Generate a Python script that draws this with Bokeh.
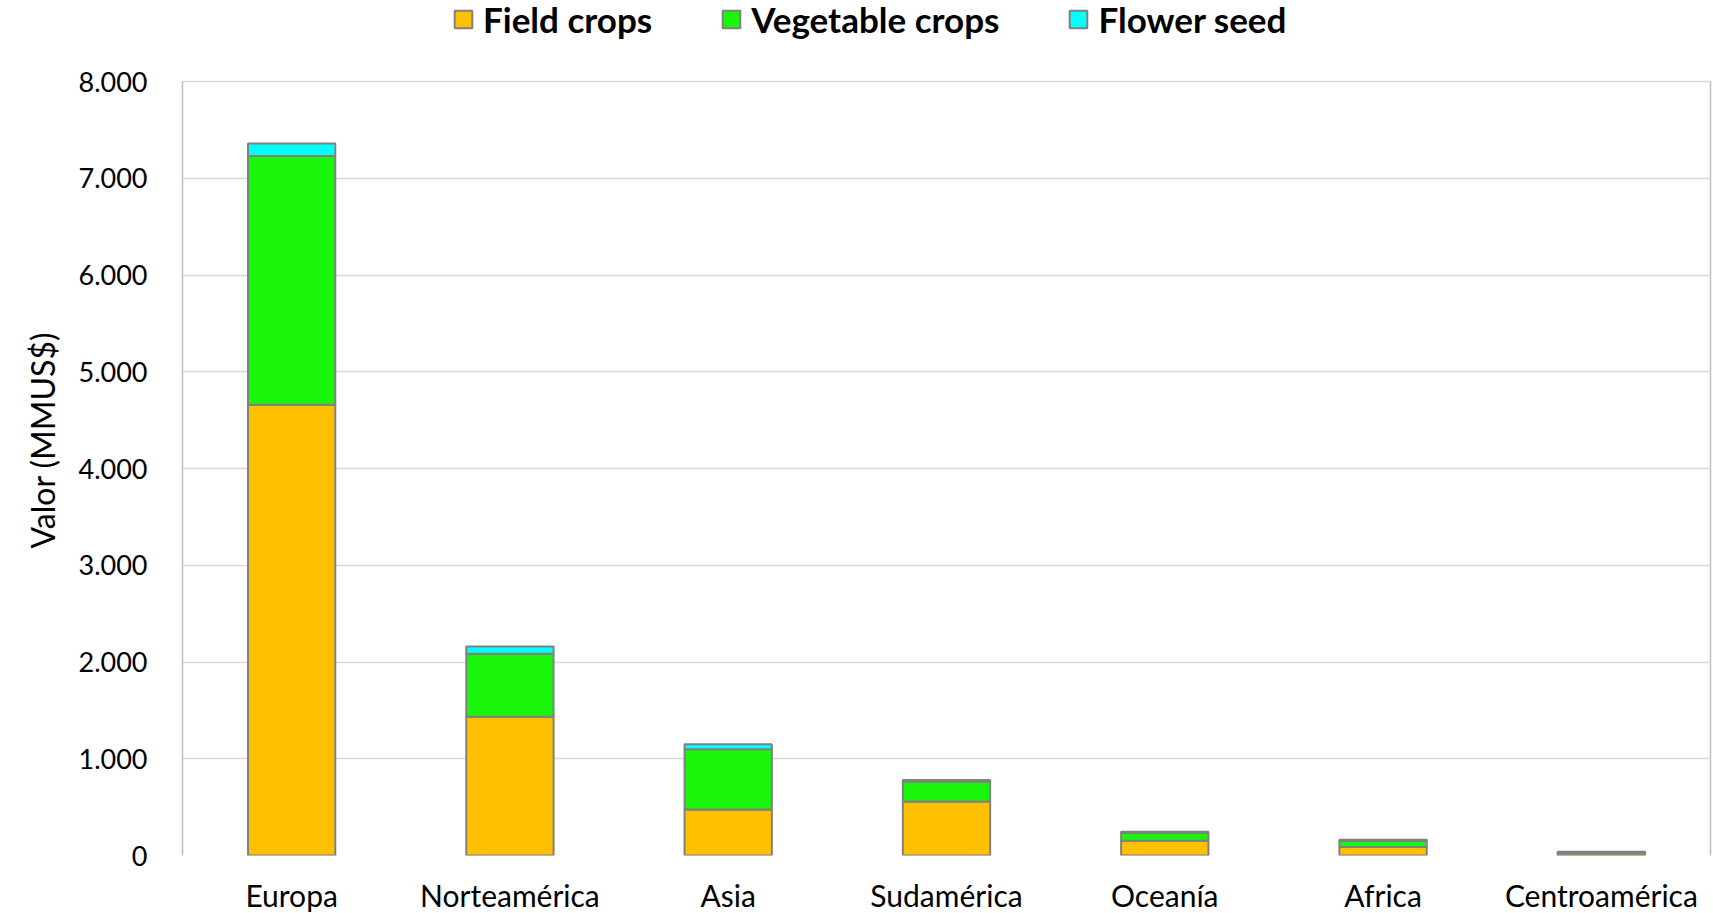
from bokeh.plotting import figure
from bokeh.models import (FactorRange, Range1d, FixedTicker, Legend, LegendItem,
                          Title, LinearAxis)
from bokeh.embed import file_html
from bokeh.resources import INLINE

categories = ["Europa", "Norteamérica", "Asia", "Sudamérica", "Oceanía", "Africa", "Centroamérica"]
field_crops = [4660, 1435, 476, 558, 152, 88, 22]
vegetable_crops = [2570, 651, 623, 208, 84, 62, 14]
flower_seed = [130, 75, 52, 15, 10, 12, 4]
series_names = ["Field crops", "Vegetable crops", "Flower seed"]
series_keys = ["field", "veg", "flower"]
colors = ["#FFC000", "#19F50B", "#00FFFF"]
y_ticks = [0, 1000, 2000, 3000, 4000, 5000, 6000, 7000, 8000]
y_tick_labels = ["0", "1.000", "2.000", "3.000", "4.000", "5.000", "6.000", "7.000", "8.000"]
y_label = "Valor (MMUS$)"

FONT = "Lato"
BORDER = "#BFBFBF"
FRAME_W = 1528
PLOT_H = 774          # height of the boxed plot area
TOP = 81              # space above box for legend
FRAME_H = PLOT_H + TOP
LEFT = 182
Y_MAX = y_ticks[-1]
Y_TOP = Y_MAX * FRAME_H / PLOT_H

data = {"cat": categories, "field": field_crops, "veg": vegetable_crops, "flower": flower_seed}

p = figure(
    x_range=FactorRange(*categories, range_padding=0),
    y_range=Range1d(0, Y_TOP),
    frame_width=FRAME_W, frame_height=FRAME_H,
    min_border_left=LEFT, min_border_right=3, min_border_top=0, min_border_bottom=58,
    output_backend="svg", toolbar_location=None,
)
p.outline_line_color = None

renderers = p.vbar_stack(series_keys, x="cat", width=0.4, source=data,
                         fill_color=colors, line_color="#808080", line_width=2)

legend = Legend(
    items=[LegendItem(label=n, renderers=[r]) for n, r in zip(series_names, renderers)],
    orientation="horizontal", location=(270, FRAME_H - 40),
    label_text_font=FONT, label_text_font_size="35px", label_text_font_style="bold",
    label_text_color="#000000", label_height=23,
    glyph_width=22, glyph_height=22, label_standoff=9, spacing=68,
    padding=0, margin=0, border_line_alpha=0, background_fill_alpha=0,
)
p.add_layout(legend, "center")

p.xgrid.grid_line_color = None
p.ygrid.ticker = FixedTicker(ticks=y_ticks)
p.ygrid.grid_line_color = "#D9D9D9"
p.ygrid.grid_line_width = 1.5

p.yaxis.ticker = FixedTicker(ticks=y_ticks)
p.yaxis.bounds = (0, Y_MAX)
p.yaxis.major_label_overrides = {t: l for t, l in zip(y_ticks, y_tick_labels)}
for ax in (p.xaxis[0], p.yaxis[0]):
    ax.major_tick_line_color = None
    ax.minor_tick_line_color = None
    ax.major_tick_out = 0
    ax.major_tick_in = 0
    ax.minor_tick_out = 0
    ax.major_label_text_font = FONT
    ax.major_label_text_color = "#000000"
p.xaxis.axis_line_color = None
p.yaxis.axis_line_color = BORDER
p.yaxis.axis_line_width = 1.5
p.yaxis.major_label_text_font_size = "27px"
p.yaxis.major_label_standoff = 35
p.xaxis.major_label_text_font_size = "30px"
p.xaxis.major_label_standoff = 21

right_axis = LinearAxis(ticker=FixedTicker(ticks=[]), bounds=(0, Y_MAX),
                        axis_line_color=BORDER, axis_line_width=1.5,
                        major_tick_line_color=None, minor_tick_line_color=None,
                        major_label_standoff=0, major_tick_out=0, minor_tick_out=0)
p.add_layout(right_axis, "right")

ytitle = Title(text=y_label, align="left", offset=307, standoff=26,
               vertical_align="middle",
               text_font=FONT, text_font_size="32px", text_font_style="normal",
               text_color="#000000")
p.add_layout(ytitle, "left")

open("out.html", "w").write(file_html(p, INLINE))
